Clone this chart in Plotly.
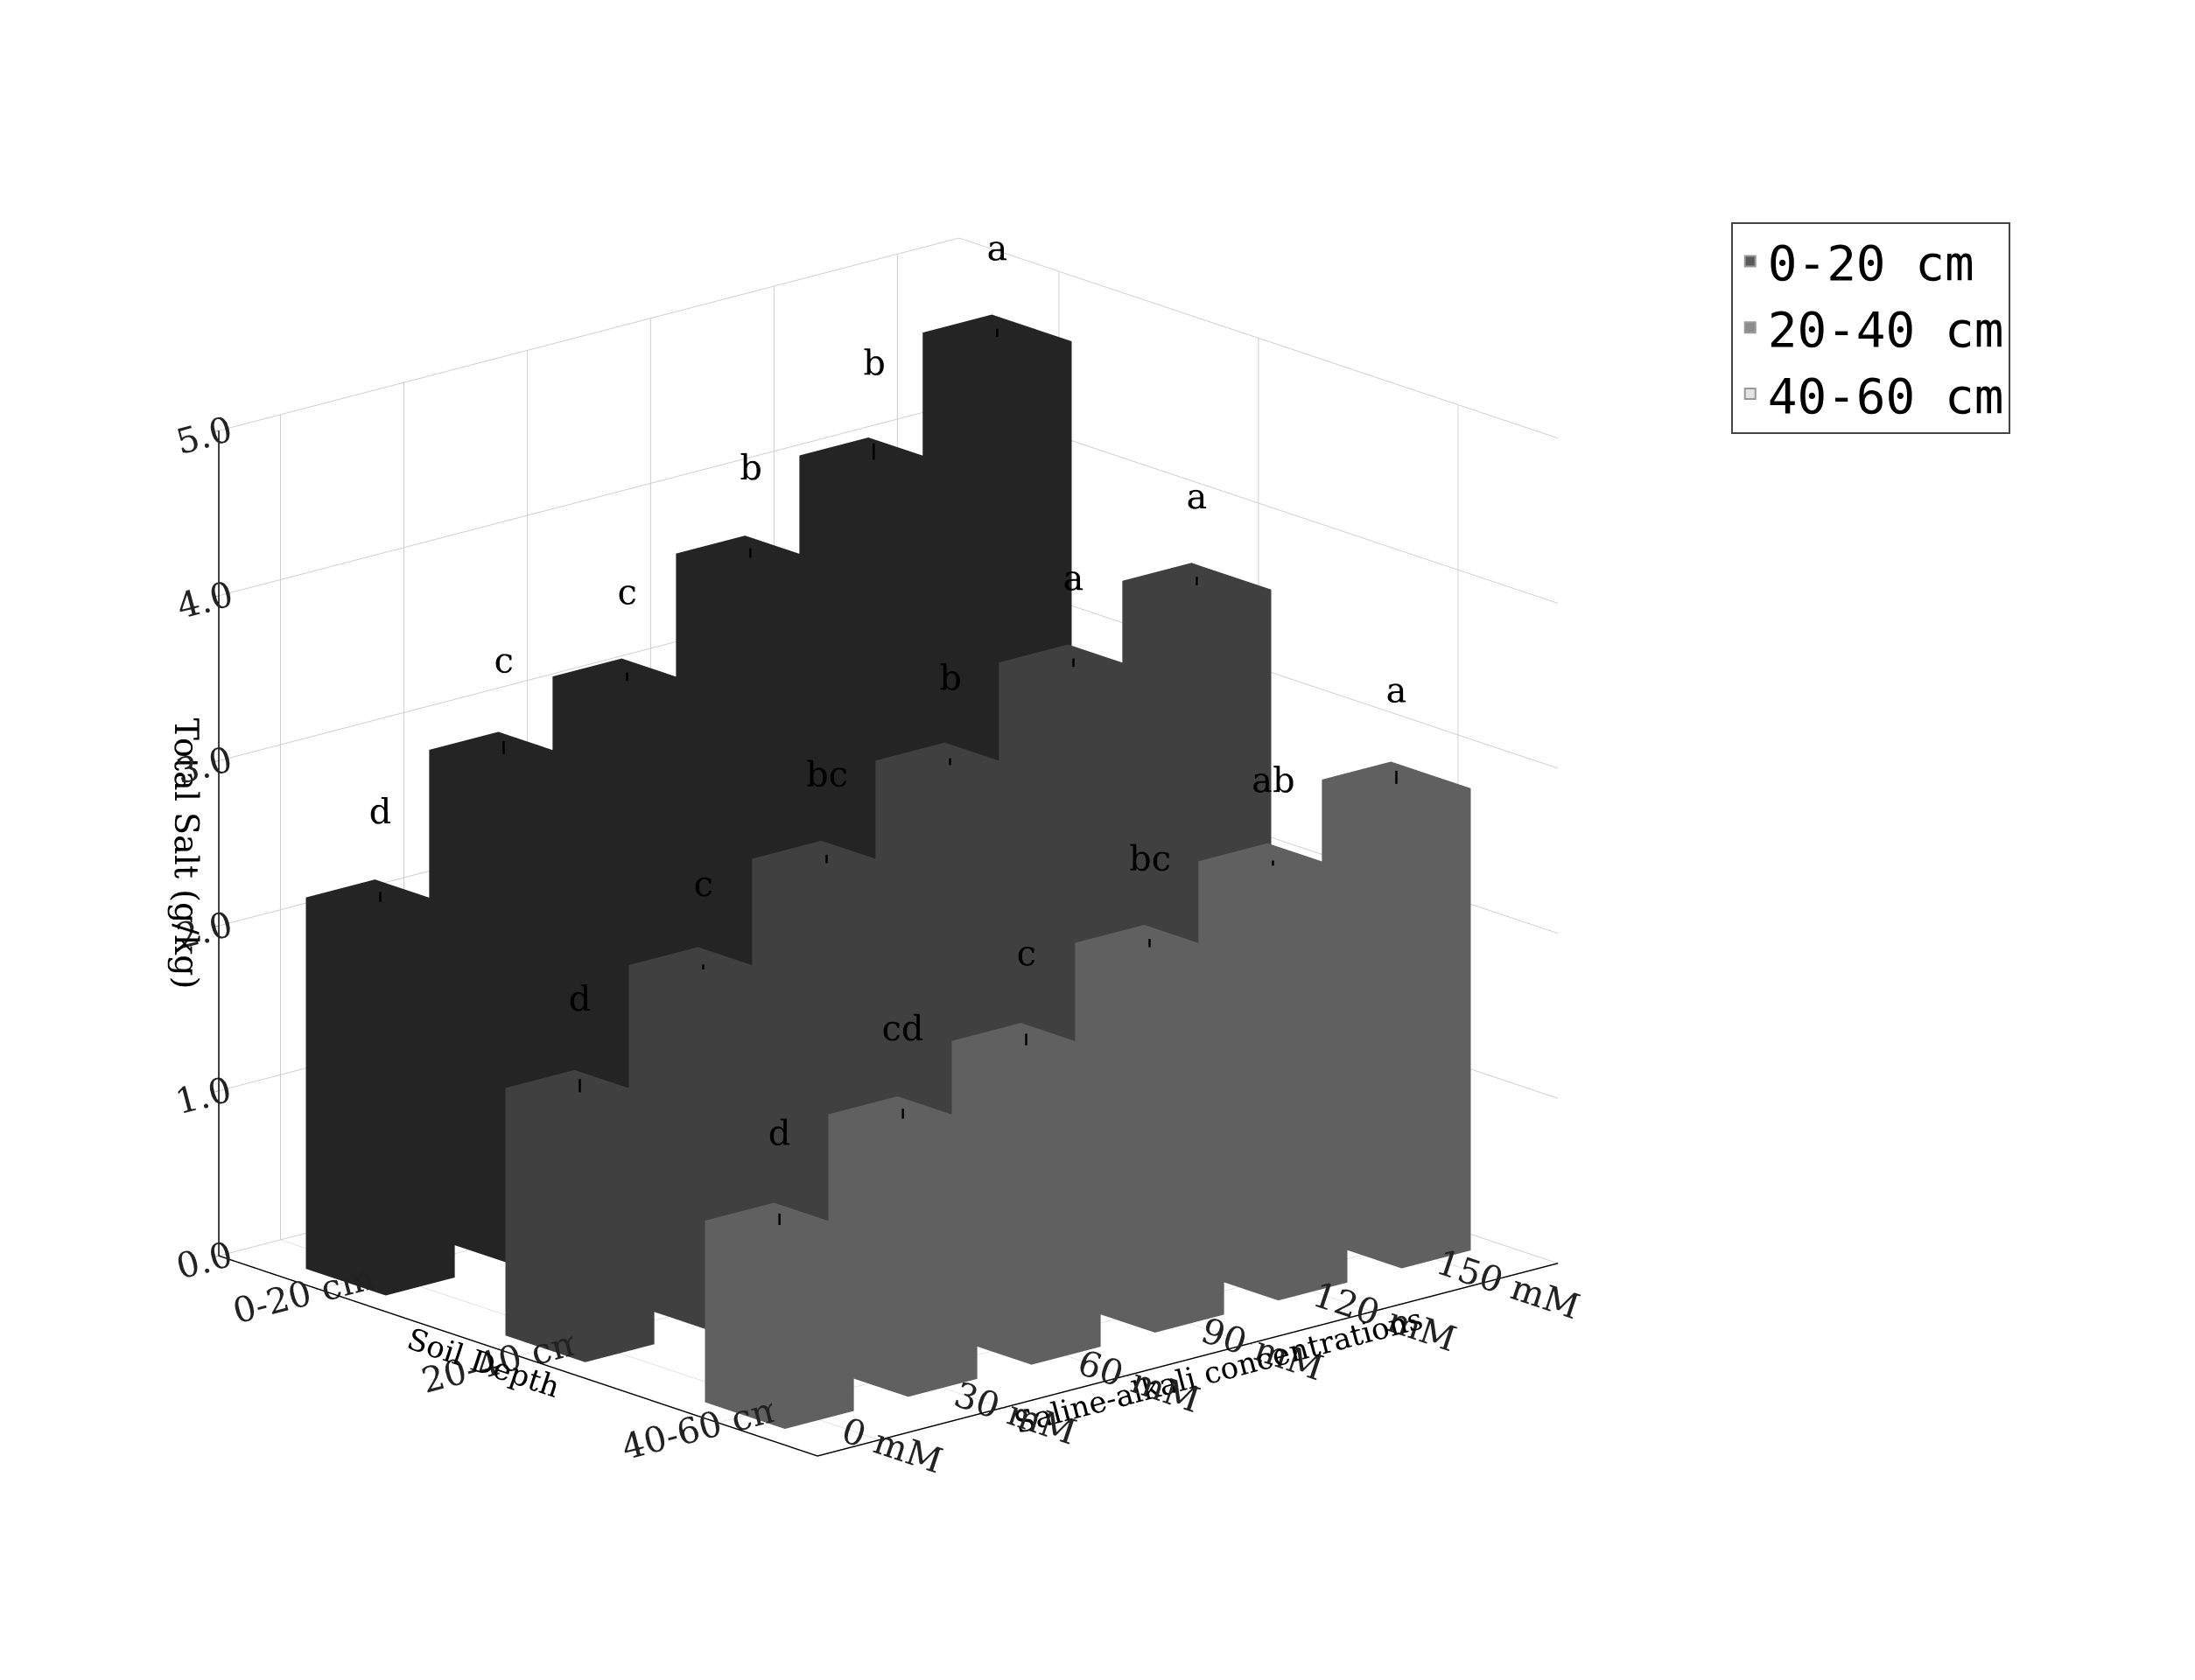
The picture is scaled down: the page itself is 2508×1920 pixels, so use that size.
import plotly.graph_objects as go

depths = ["0-20 cm", "20-40 cm", "40-60 cm"]
concs = ["0 mM", "30 mM", "60 mM", "90 mM", "120 mM", "150 mM"]
salt = {
    "0-20 cm": [2.25, 2.95, 3.2, 3.75, 4.15, 4.7],
    "20-40 cm": [1.5, 2.05, 2.5, 2.9, 3.3, 3.6],
    "40-60 cm": [1.1, 1.55, 1.8, 2.2, 2.5, 2.8],
}
err = {
    "0-20 cm": [0.06, 0.08, 0.05, 0.06, 0.1, 0.05],
    "20-40 cm": [0.08, 0.03, 0.05, 0.04, 0.05, 0.05],
    "40-60 cm": [0.07, 0.06, 0.07, 0.05, 0.03, 0.08],
}
letters = {
    "0-20 cm": ["d", "c", "c", "b", "b", "a"],
    "20-40 cm": ["d", "c", "bc", "b", "a", "a"],
    "40-60 cm": ["d", "cd", "c", "bc", "ab", "a"],
}
colors = {"0-20 cm": "#3c3c3c", "20-40 cm": "#6a6a6a", "40-60 cm": "#a0a0a0"}
legend_colors = {"0-20 cm": "#5a5a5a", "20-40 cm": "#8c8c8c", "40-60 cm": "#e4e4e4"}

fig = go.Figure()
wx, wy = 0.2, 0.28
for i, d in enumerate(depths):
    xs, ys, zs, I, J, K = [], [], [], [], [], []
    for j, h in enumerate(salt[d]):
        b = len(xs)
        for cz in (0, h):
            for cx, cy in ((i - wx, j - wy), (i + wx, j - wy), (i + wx, j + wy), (i - wx, j + wy)):
                xs.append(cx); ys.append(cy); zs.append(cz)
        faces = [(0, 1, 2), (0, 2, 3), (4, 5, 6), (4, 6, 7), (0, 1, 5), (0, 5, 4),
                 (1, 2, 6), (1, 6, 5), (2, 3, 7), (2, 7, 6), (3, 0, 4), (3, 4, 7)]
        for a, bb, c in faces:
            I.append(b + a); J.append(b + bb); K.append(b + c)
    fig.add_trace(go.Mesh3d(x=xs, y=ys, z=zs, i=I, j=J, k=K, color=colors[d],
                            flatshading=True, name=d, showlegend=False,
                            lighting=dict(ambient=0.6, diffuse=0.7, specular=0.05),
                            lightposition=dict(x=1000, y=-2000, z=5000)))
    fig.add_trace(go.Scatter3d(x=[None], y=[None], z=[None], mode="markers",
                               marker=dict(symbol="square", size=40, color=legend_colors[d],
                                           line=dict(color="#999", width=1)),
                               name=d))
    ex, ey, ez = [], [], []
    for j, h in enumerate(salt[d]):
        ex += [i, i, None]; ey += [j, j, None]; ez += [h, h + err[d][j], None]
    fig.add_trace(go.Scatter3d(x=ex, y=ey, z=ez, mode="lines",
                               line=dict(color="black", width=5), showlegend=False))
    fig.add_trace(go.Scatter3d(x=[i] * 6, y=list(range(6)),
                               z=[h + err[d][j] + 0.2 for j, h in enumerate(salt[d])],
                               mode="text", text=letters[d], showlegend=False,
                               textfont=dict(size=40, family="DejaVu Serif", color="black")))

axfont = dict(family="DejaVu Serif", size=22, color="#222")
common = dict(showbackground=False, gridcolor="#cfcfcf", showline=True, linecolor="black",
              linewidth=3, ticks="outside", tickfont=axfont, zeroline=False)
fig.update_layout(
    width=2508, height=1920, paper_bgcolor="white", font=dict(family="DejaVu Serif", color="black"),
    scene=dict(
        xaxis=dict(common, title=dict(text="Soil Depth", font=dict(size=34, color="black")),
                   tickvals=[0, 1, 2], ticktext=depths, range=[-0.5, 2.5]),
        yaxis=dict(common, title=dict(text="Saline-alkali concentrations", font=dict(size=34, color="black")),
                   tickvals=list(range(6)), ticktext=concs, range=[-0.5, 5.5]),
        zaxis=dict(common, title=dict(text="Total Salt (g/kg)", font=dict(size=38, color="black")),
                   range=[0, 5], tickvals=[0, 1, 2, 3, 4, 5],
                   ticktext=["0.0", "1.0", "2.0", "3.0", "4.0", "5.0"]),
        aspectmode="manual", aspectratio=dict(x=1.1, y=1.2, z=1.05),
        camera=dict(eye=dict(x=1.7, y=-1.5, z=0.7), projection=dict(type="orthographic")),
        domain=dict(x=[0, 0.8], y=[0, 1]),
    ),
    legend=dict(x=0.79, y=0.88, font=dict(size=56, family="DejaVu Sans Mono", color="black"),
                bordercolor="#444", borderwidth=2, itemsizing="constant"),
    margin=dict(l=20, r=20, t=20, b=20),
)
fig.write_html("out.html")
